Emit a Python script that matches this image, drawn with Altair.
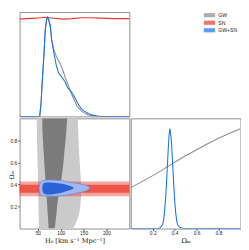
import altair as alt
import pandas as pd

# ---------------- data ----------------
labels = ["GW", "SN", "GW+SN"]
colors = ["#8c8c8c", "#e5392c", "#1a72ee"]

# H0 1D marginals (normalised to peak)
h0_grid = [10, 50, 54, 57, 60, 63, 66, 69, 71.5, 74, 77, 80, 85, 90, 95, 100, 105, 110,
           115, 120, 125, 130, 135, 140, 145, 150, 160, 170, 180, 190, 250]
gw_h0 = [0, 0, 0, 0.14, 0.38, 0.6, 0.85, 0.97, 1.0, 0.96, 0.9, 0.78, 0.67, 0.61, 0.56, 0.52,
         0.46, 0.39, 0.33, 0.27, 0.21, 0.16, 0.11, 0.08, 0.055, 0.038, 0.015, 0.006, 0.002, 0, 0]
gwsn_h0 = [0, 0, 0, 0.14, 0.4, 0.6, 0.88, 0.98, 1.0, 0.97, 0.92, 0.77, 0.64, 0.52, 0.44, 0.41,
           0.38, 0.345, 0.29, 0.265, 0.235, 0.195, 0.15, 0.11, 0.078, 0.058, 0.03, 0.013, 0.004, 0, 0]
sn_h0_grid = [10, 25, 45, 65, 85, 105, 125, 145, 165, 190, 215, 250]
sn_h0 = [0.98, 0.985, 0.99, 1.0, 0.99, 0.98, 0.985, 0.995, 0.995, 0.99, 0.985, 0.985]

# Omega_m 1D marginals
om_grid = [0, 0.1, 0.2, 0.3, 0.4, 0.5, 0.6, 0.7, 0.8, 0.9, 1.0]
gw_om = [0.41, 0.47, 0.53, 0.595, 0.665, 0.73, 0.79, 0.85, 0.905, 0.955, 1.0]
gwsn_om_grid = [0, 0.25, 0.27, 0.29, 0.3, 0.31, 0.32, 0.33, 0.34, 0.35, 0.355, 0.36, 0.37,
                0.38, 0.39, 0.4, 0.41, 0.42, 0.43, 0.45, 0.48, 1.0]
gwsn_om = [0, 0, 0.01, 0.04, 0.09, 0.2, 0.34, 0.55, 0.77, 0.95, 1.0, 0.98, 0.88, 0.68, 0.47,
           0.28, 0.15, 0.07, 0.03, 0.01, 0, 0]

# GW 2D credible regions (H0 range at each Omega_m)
gw_om_levels = [0.0, 0.04, 0.08, 0.13, 0.2, 0.3, 0.4, 0.5, 0.6, 0.7, 0.8, 0.9, 1.0]
gw95_lo = [52.5, 52, 52, 51.5, 51.2, 51, 50.5, 50, 49.3, 48.7, 48.2, 47.8, 47.5]
gw95_hi = [127, 132, 136, 140, 143, 144.5, 144.5, 143, 141.5, 140, 139, 138, 137]
gw68_lo = [73.5, 73, 72.5, 71.5, 70.5, 69, 67, 65.5, 64, 62.5, 61, 60, 59.5]
gw68_hi = [87, 88, 89, 90.5, 92, 95, 100, 103, 106, 108, 110.5, 112.5, 114]

# SN bands in Omega_m
sn95 = [0.293, 0.428]
sn68 = [0.325, 0.398]

# GW+SN 2D credible regions (Omega_m range at each H0)
blue95_h0 = [52.5, 53.5, 55, 58, 62, 70, 85, 100, 115, 130, 140, 150, 157, 161, 163]
blue95_lo = [0.365, 0.33, 0.313, 0.302, 0.297, 0.294, 0.294, 0.297, 0.305, 0.318, 0.326,
             0.335, 0.345, 0.355, 0.368]
blue95_hi = [0.365, 0.40, 0.418, 0.43, 0.436, 0.44, 0.44, 0.435, 0.425, 0.413, 0.407, 0.4,
             0.39, 0.38, 0.37]
blue68_h0 = [59.5, 60.5, 62, 65, 70, 80, 90, 100, 108, 115, 122, 126, 129]
blue68_lo = [0.365, 0.335, 0.322, 0.313, 0.31, 0.31, 0.315, 0.322, 0.333, 0.343, 0.352, 0.36, 0.367]
blue68_hi = [0.365, 0.395, 0.408, 0.415, 0.418, 0.418, 0.414, 0.41, 0.402, 0.393, 0.385, 0.377, 0.368]

h0_ticks = [50, 100, 150, 200]
om_ticks = [0.2, 0.4, 0.6, 0.8]

# ---------------- tables ----------------
df_gw_h0 = pd.DataFrame({"h0": h0_grid, "d": gw_h0, "label": "GW"})
df_gwsn_h0 = pd.DataFrame({"h0": h0_grid, "d": gwsn_h0, "label": "GW+SN"})
df_sn_h0 = pd.DataFrame({"h0": sn_h0_grid, "d": sn_h0, "label": "SN"})
df_gw_om = pd.DataFrame({"om": om_grid, "d": gw_om})
df_gwsn_om = pd.DataFrame({"om": gwsn_om_grid, "d": gwsn_om})
df_gw95 = pd.DataFrame({"om": gw_om_levels, "lo": gw95_lo, "hi": gw95_hi})
df_gw68 = pd.DataFrame({"om": gw_om_levels, "lo": gw68_lo, "hi": gw68_hi})
df_sn95 = pd.DataFrame({"lo": [sn95[0]], "hi": [sn95[1]]})
df_sn68 = pd.DataFrame({"lo": [sn68[0]], "hi": [sn68[1]]})
df_b95 = pd.DataFrame({"h0": blue95_h0, "lo": blue95_lo, "hi": blue95_hi})
df_b68 = pd.DataFrame({"h0": blue68_h0, "lo": blue68_lo, "hi": blue68_hi})
df_leg = pd.DataFrame({"label": labels})

TICK_FONT = "Liberation Sans"
TITLE_FONT = "DejaVu Serif"
W = 113.5

xs_h0 = alt.Scale(domain=[10, 250], nice=False, zero=False)
ys_om = alt.Scale(domain=[0, 1], nice=False, zero=False)
xs_om = alt.Scale(domain=[0, 1], nice=False, zero=False)
color_scale = alt.Scale(domain=labels, range=colors)

# ---------------- top-left: H0 marginal ----------------
ys_tl = alt.Scale(domain=[0, 1.052], nice=False, zero=True)


def h0_line(df):
    return alt.Chart(df).mark_line(strokeWidth=1.1, clip=True).encode(
        x=alt.X("h0:Q", scale=xs_h0, axis=None),
        y=alt.Y("d:Q", scale=ys_tl, axis=None),
        color=alt.Color("label:N", scale=color_scale, legend=None),
    )


tl = alt.layer(h0_line(df_sn_h0), h0_line(df_gw_h0), h0_line(df_gwsn_h0)).properties(
    width=W, height=108)

# ---------------- top-right: legend ----------------
leg_y = alt.Y("label:N", axis=None,
              scale=alt.Scale(type="point", domain=labels, range=[3.3, 18.9], padding=0))
leg_sw = alt.Chart(df_leg).mark_tick(orient="horizontal", thickness=4.3, size=11.7).encode(
    x=alt.value(81.4), y=leg_y,
    color=alt.Color("label:N", scale=color_scale, legend=None))
leg_tx = alt.Chart(df_leg).mark_text(align="left", baseline="middle", font=TICK_FONT,
                                     fontSize=5.3, color="#222").encode(
    x=alt.value(90.5), y=leg_y, text="label:N")
leg = alt.layer(leg_sw, leg_tx).properties(
    width=W, height=108, view=alt.ViewBackground(stroke="transparent"))

# ---------------- bottom-left: 2D ----------------
x_axis_bl = alt.Axis(values=h0_ticks, format="d", tickSize=2, labelPadding=0.5,
                     labelFontSize=5, title="H\u2080 [km s\u207b\u00b9 Mpc\u207b\u00b9]",
                     titleFontSize=6.8, titleFont=TITLE_FONT, titlePadding=1.5,
                     titleFontWeight="normal")
y_axis_bl = alt.Axis(values=om_ticks, format=".1f", tickSize=2, labelPadding=1,
                     labelFontSize=5, title="\u03a9\u2098", titleFontSize=6.5,
                     titleFont=TITLE_FONT, titleX=-8.2, titleY=58, titleAngle=270,
                     titleBaseline="middle", titleAlign="center", titleFontWeight="normal")

X_BL = dict(scale=xs_h0, axis=x_axis_bl)
Y_BL = dict(scale=ys_om, axis=y_axis_bl)

g95 = alt.Chart(df_gw95).mark_area(orient="horizontal", color="#cacaca", clip=True).encode(
    y=alt.Y("om:Q", **Y_BL), x=alt.X("lo:Q", **X_BL), x2="hi:Q")
g68 = alt.Chart(df_gw68).mark_area(orient="horizontal", color="#7b7b7b", clip=True).encode(
    y=alt.Y("om:Q", **Y_BL), x=alt.X("lo:Q", **X_BL), x2="hi:Q")
r95 = alt.Chart(df_sn95).mark_rect(color="#e8392b", opacity=0.45).encode(
    y=alt.Y("lo:Q", **Y_BL), y2="hi:Q")
r68 = alt.Chart(df_sn68).mark_rect(color="#e8392b", opacity=0.75).encode(
    y=alt.Y("lo:Q", **Y_BL), y2="hi:Q")
b95 = alt.Chart(df_b95).mark_area(color="#a3b6ee", stroke="#6a8fe2", strokeWidth=0.8,
                                  clip=True).encode(
    x=alt.X("h0:Q", **X_BL), y=alt.Y("lo:Q", **Y_BL), y2="hi:Q")
b68 = alt.Chart(df_b68).mark_area(color="#2a63d6", clip=True).encode(
    x=alt.X("h0:Q", **X_BL), y=alt.Y("lo:Q", **Y_BL), y2="hi:Q")

bl = alt.layer(g95, g68, r95, r68, b95, b68).properties(width=W, height=114)

# ---------------- bottom-right: Omega_m marginal ----------------
ys_br = alt.Scale(domain=[0, 1.104], nice=False, zero=True)
x_axis_br = alt.Axis(values=om_ticks, format=".1f", tickSize=2, labelPadding=0.5,
                     labelFontSize=5, title="\u03a9\u2098", titleFontSize=6.8,
                     titleFont=TITLE_FONT, titlePadding=1.5, titleFontWeight="normal")
br_gw = alt.Chart(df_gw_om).mark_line(color=colors[0], strokeWidth=1.1, clip=True).encode(
    x=alt.X("om:Q", scale=xs_om, axis=x_axis_br),
    y=alt.Y("d:Q", scale=ys_br, axis=None))
br_b = alt.Chart(df_gwsn_om).mark_line(color=colors[2], strokeWidth=1.1, clip=True).encode(
    x=alt.X("om:Q", scale=xs_om, axis=x_axis_br),
    y=alt.Y("d:Q", scale=ys_br, axis=None))
br = alt.layer(br_gw, br_b).properties(width=W, height=114)

chart = alt.concat(
    tl, leg, bl, br, columns=2, spacing=0, align="each"
).properties(
    autosize=alt.AutoSizeParams(type="none"),
    padding={"left": 12, "top": 0, "right": 229, "bottom": 241}
).configure_view(
    stroke="#8c8c8c", strokeWidth=1
).configure_axis(
    grid=False, domain=False, tickColor="#555", labelColor="#222", titleColor="#111",
    labelFont=TICK_FONT
)

chart.save("out.html", embed_options={"renderer": "svg", "actions": False})
